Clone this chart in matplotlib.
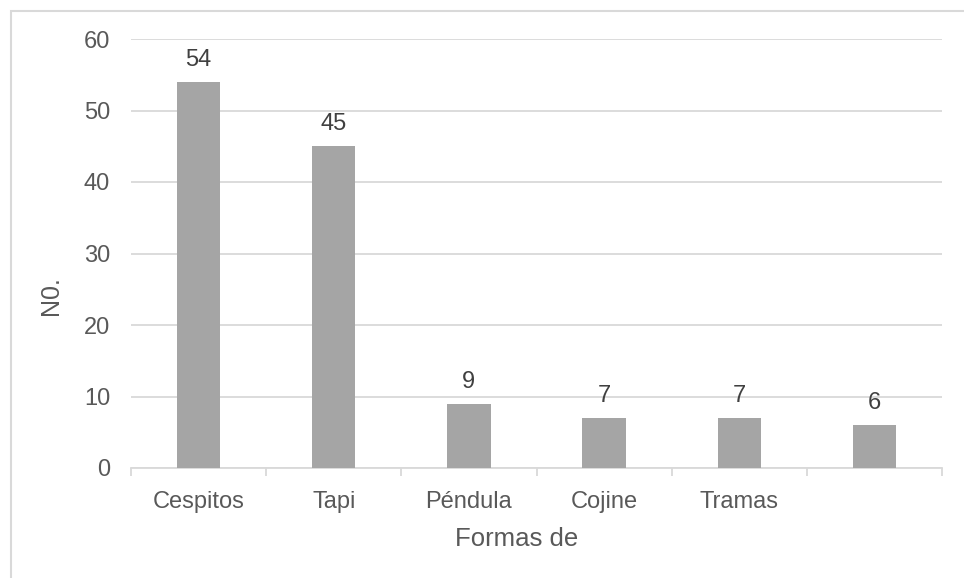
import matplotlib
matplotlib.use("Agg")
import matplotlib.pyplot as plt
from matplotlib.patches import Rectangle
import numpy as np

categories = ["Cespitos", "Tapi", "Péndula", "Cojine", "Tramas", ""]
values = [54, 45, 9, 7, 7, 6]
y_ticks = [0, 10, 20, 30, 40, 50, 60]

plt.rcParams["font.family"] = ["Liberation Sans", "DejaVu Sans"]

W, H = 964, 578
fig = plt.figure(figsize=(W / 100, H / 100), dpi=100)
ax = fig.add_axes([131 / W, 1 - 468 / H, (942 - 131) / W, (468 - 39) / H])

grid_c = "#D9D9D9"
text_c = "#595959"
bar_c = "#A5A5A5"

x = np.arange(len(categories))
bars = ax.bar(x, values, width=0.32, color=bar_c, zorder=3)

for xi, v in zip(x, values):
    ax.annotate(str(v), (xi, v), xytext=(0, 8), textcoords="offset points",
                ha="center", va="bottom", fontsize=17, color="#404040")

ax.set_xlim(-0.5, len(categories) - 0.5)
ax.set_ylim(0, 60)
ax.set_yticks(y_ticks)
ax.set_yticklabels([str(t) for t in y_ticks])
ax.yaxis.grid(True, color=grid_c, linewidth=1.3, zorder=0)
ax.tick_params(axis="y", length=0, pad=15, labelsize=17, labelcolor=text_c)

# Category labels centred, tick marks at category boundaries
ax.set_xticks(x)
ax.set_xticklabels(categories)
ax.tick_params(axis="x", which="major", length=0, pad=16.5, labelsize=17, labelcolor=text_c)
ax.set_xticks(np.arange(len(categories) + 1) - 0.5, minor=True)
ax.tick_params(axis="x", which="minor", length=6, width=1.3, color=grid_c, direction="out")

for s in ["top", "right", "left"]:
    ax.spines[s].set_visible(False)
ax.spines["bottom"].set_color(grid_c)
ax.spines["bottom"].set_linewidth(1.3)

fig.text(517 / W, 1 - 539 / H, "Formas de", ha="center", va="center",
         fontsize=18.5, color=text_c)
fig.text(51 / W, 1 - 296 / H, "N0.", ha="center", va="center", rotation=90,
         fontsize=18, color=text_c)

# Chart-area border
fig.patches.append(Rectangle((10.5 / W, -0.05), 1.2, 1 - 10.5 / H + 0.05,
                             transform=fig.transFigure, fill=False,
                             edgecolor=grid_c, linewidth=1.5))

fig.savefig("out.png", dpi=100)
